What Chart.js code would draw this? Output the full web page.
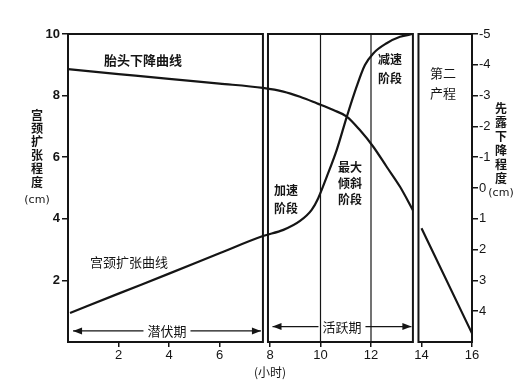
<!DOCTYPE html>
<html>
<head>
<meta charset="utf-8">
<script src="https://cdn.jsdelivr.net/npm/chart.js@4.4.0/dist/chart.umd.min.js"></script>
<style>
  html, body { margin: 0; padding: 0; background: #fff; }
  canvas { display: block; }
</style>
</head>
<body>
<canvas id="laborChart" width="532" height="390"></canvas>
<script>
// 宫颈扩张曲线 (hours, cm on left axis)
const dilationHours = [0.08, 2, 4, 6, 7.72, 8.53, 9.19, 9.65, 9.91, 10.25, 10.64, 11.04, 11.43, 11.76, 12.09, 12.62, 13.15, 13.66];
const dilationCm    = [0.94, 1.57, 2.22, 2.88, 3.44, 3.64, 3.93, 4.29, 4.67, 5.37, 6.23, 7.31, 8.29, 8.99, 9.37, 9.70, 9.91, 10.0];

// 胎头下降曲线 (hours, cm on right axis, null = break between boxes)
const descentHours = [0, 2, 4, 6, 7.72, 8.53, 9.19, 9.85, 10.51, 11.04, 11.56, 12.09, 12.62, 13.15, 13.66, 13.8, 14.0, 16];
const descentCm    = [-3.86, -3.70, -3.54, -3.39, -3.25, -3.13, -2.96, -2.75, -2.53, -2.32, -1.88, -1.34, -0.69, -0.04, 0.72, null, 1.31, 4.72];

// axis ticks
const hourTicks = [2, 4, 6, 8, 10, 12, 14, 16];
const dilationTicks = [2, 4, 6, 8, 10];
const descentTicks = [-5, -4, -3, -2, -1, 0, 1, 2, 3, 4];

// phases (hours)
const phaseBoxes = [[0, 7.72], [7.92, 13.66], [13.88, 16]];
const activeDividers = [10, 12];

const INK = '#151515';
const cjk = '"Noto Sans CJK SC", "Noto Sans", sans-serif';

function arrowHead(ctx, px, py, dir) {
  ctx.beginPath();
  ctx.moveTo(px, py);
  ctx.lineTo(px - dir * 9, py - 3.5);
  ctx.lineTo(px - dir * 9, py + 3.5);
  ctx.closePath();
  ctx.fill();
}

function phaseArrow(ctx, x, y, from, to, level, label) {
  const x1 = x.getPixelForValue(from), x2 = x.getPixelForValue(to);
  const py = y.getPixelForValue(level);
  const mid = (x1 + x2) / 2;
  ctx.font = '13px ' + cjk;
  const w = ctx.measureText(label).width / 2 + 4;
  ctx.lineWidth = 1.3;
  ctx.beginPath();
  ctx.moveTo(x1, py); ctx.lineTo(mid - w, py);
  ctx.moveTo(mid + w, py); ctx.lineTo(x2, py);
  ctx.stroke();
  arrowHead(ctx, x1, py, -1);
  arrowHead(ctx, x2, py, 1);
  ctx.fillText(label, mid, py);
}

function column(ctx, chars, cx, top, step) {
  chars.forEach((c, i) => ctx.fillText(c, cx, top + i * step));
}

const figurePlugin = {
  id: 'figure',
  beforeDatasetsDraw(chart) {
    const { ctx, scales: { x, y } } = chart;
    ctx.save();
    ctx.strokeStyle = INK;
    ctx.lineWidth = 2;
    phaseBoxes.forEach(([a, b]) => {
      const l = x.getPixelForValue(a), r = x.getPixelForValue(b);
      const t = y.getPixelForValue(10), btm = y.getPixelForValue(0);
      ctx.strokeRect(l, t, r - l, btm - t);
    });
    ctx.lineWidth = 1.2;
    activeDividers.forEach(h => {
      const px = x.getPixelForValue(h);
      ctx.beginPath();
      ctx.moveTo(px, y.getPixelForValue(10));
      ctx.lineTo(px, y.getPixelForValue(0));
      ctx.stroke();
    });
    ctx.restore();
  },
  afterDraw(chart) {
    const { ctx, scales: { x, y } } = chart;
    ctx.save();
    ctx.fillStyle = INK;
    ctx.strokeStyle = INK;
    ctx.textAlign = 'center';
    ctx.textBaseline = 'middle';

    // curve names
    ctx.font = 'bold 13px ' + cjk;
    ctx.fillText('胎头下降曲线', 143, 60);
    ctx.font = '13px ' + cjk;
    ctx.fillText('宫颈扩张曲线', 129, 262);

    // stages
    ctx.font = 'bold 12px ' + cjk;
    column(ctx, ['加速', '阶段'], 286, 190, 18);
    column(ctx, ['最大', '倾斜', '阶段'], 350, 167, 16);
    column(ctx, ['减速', '阶段'], 390, 59, 19);
    ctx.font = '13px ' + cjk;
    column(ctx, ['第二', '产程'], 443, 73, 20);

    // latent / active phase arrows
    phaseArrow(ctx, x, y, 0.2, 7.64, 0.36, '潜伏期');
    phaseArrow(ctx, x, y, 8.1, 13.6, 0.5, '活跃期');

    // axis titles written as upright columns
    ctx.font = 'bold 12px ' + cjk;
    column(ctx, '宫颈扩张程度'.split(''), 37, 115, 13.4);
    ctx.font = '11px "DejaVu Sans", sans-serif';
    ctx.fillText('(cm)', 37, 200);
    ctx.font = 'bold 12px ' + cjk;
    column(ctx, '先露下降程度'.split(''), 501, 108, 14);
    ctx.font = '11px "DejaVu Sans", sans-serif';
    ctx.fillText('(cm)', 501, 193);

    ctx.font = '12px ' + cjk;
    ctx.fillText('(小时)', (chart.chartArea.left + chart.chartArea.right) / 2, 372);
    ctx.restore();
  }
};

function toPoints(xs, ys) {
  return xs.map((h, i) => ({ x: h, y: ys[i] }));
}

const tickFont = { family: '"Liberation Sans", Arial, sans-serif', size: 13 };

new Chart(document.getElementById('laborChart'), {
  type: 'line',
  data: {
    datasets: [
      {
        label: '宫颈扩张曲线',
        data: toPoints(dilationHours, dilationCm),
        yAxisID: 'y',
        borderColor: INK,
        borderWidth: 2.2,
        pointRadius: 0,
        cubicInterpolationMode: 'monotone',
        clip: 4
      },
      {
        label: '胎头下降曲线',
        data: toPoints(descentHours, descentCm),
        yAxisID: 'y2',
        borderColor: INK,
        borderWidth: 2.2,
        pointRadius: 0,
        spanGaps: false,
        cubicInterpolationMode: 'monotone',
        clip: 4
      }
    ]
  },
  options: {
    responsive: false,
    animation: false,
    devicePixelRatio: 1,
    layout: { padding: { top: 34, left: 0, right: 0, bottom: 0 } },
    plugins: { legend: { display: false }, tooltip: { enabled: false } },
    scales: {
      x: {
        type: 'linear',
        min: 0, max: 16,
        afterFit: s => { s.height = 48; },
        afterBuildTicks: s => { s.ticks = hourTicks.map(v => ({ value: v })); },
        border: { display: false },
        grid: { drawOnChartArea: false, drawTicks: true, tickLength: 5, color: INK, lineWidth: 1.5 },
        ticks: { color: INK, font: tickFont, padding: 1, maxRotation: 0 }
      },
      y: {
        position: 'left',
        min: 0, max: 10,
        afterFit: s => { s.width = 68; },
        afterBuildTicks: s => { s.ticks = dilationTicks.map(v => ({ value: v })); },
        border: { display: false },
        grid: { drawOnChartArea: false, drawTicks: true, tickLength: 6, color: INK, lineWidth: 1.5 },
        ticks: { color: INK, font: { ...tickFont, weight: 'bold' }, padding: 2 }
      },
      y2: {
        position: 'right',
        reverse: true,
        min: -5, max: 5,
        afterFit: s => { s.width = 60; },
        afterBuildTicks: s => { s.ticks = descentTicks.map(v => ({ value: v })); },
        border: { display: false },
        grid: { drawOnChartArea: false, drawTicks: true, tickLength: 6, color: INK, lineWidth: 1.5 },
        ticks: { color: INK, font: tickFont, padding: 1 }
      }
    }
  },
  plugins: [figurePlugin]
});
</script>
</body>
</html>
